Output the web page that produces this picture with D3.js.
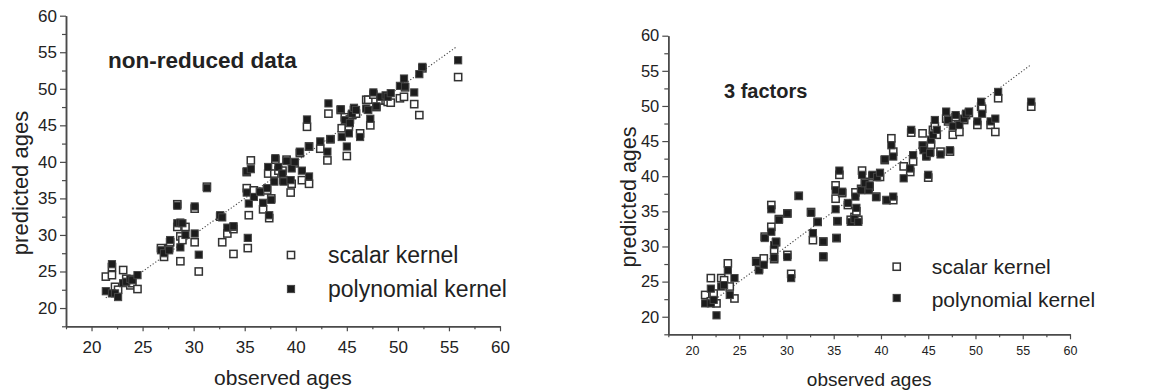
<!DOCTYPE html>
<html>
<head>
<meta charset="utf-8">
<script src="https://cdn.jsdelivr.net/npm/d3@7"></script>
<style>
  body { margin: 0; background: #fff; }
  svg { display: block; font-family: "Liberation Sans", Arial, Helvetica, sans-serif; }
</style>
</head>
<body>
<svg id="chart" width="1164" height="392"></svg>
<script>
// observed ages (shared by both panels)
const observed = [
  21.4, 22.0, 22.0, 22.3, 22.6, 23.1, 23.4, 23.8, 24.0, 24.5,
  26.8, 27.1, 27.6, 27.7, 28.4, 28.4, 28.7, 28.7, 28.9, 29.2,
  30.1, 30.1, 30.5, 31.3, 32.6, 32.8, 33.3, 33.9, 33.9,
  35.2, 35.2, 35.3, 35.4, 35.6, 35.9, 36.5, 36.8, 37.2, 37.4,
  37.3, 37.6, 37.9, 38.0, 38.3, 38.7, 38.8, 39.1, 39.5, 39.6,
  39.9, 40.4, 40.6, 41.1, 41.3, 41.3, 42.4, 43.1, 43.2, 43.4,
  44.4, 44.5, 44.8, 45.0, 45.2, 45.3, 45.5, 45.7, 45.9, 46.3,
  46.9, 47.1, 47.3, 47.6, 47.9, 48.3, 48.8, 49.0, 49.3,
  50.2, 50.6, 50.7, 51.6, 52.1, 52.4, 55.9
];

// non-reduced data
const scalarFull = [
  24.3, 25.6, 24.5, 22.9, 22.5, 25.2, 24.0, 23.1, 23.4, 22.6,
  28.2, 27.0, 28.2, 29.0, 34.2, 31.1, 26.4, 29.8, 29.3, 31.1,
  33.6, 29.0, 25.0, 36.6, 32.5, 29.0, 30.2, 27.4, 30.8,
  38.6, 36.4, 28.2, 32.7, 40.2, 36.1, 35.9, 33.5, 36.1, 32.3,
  38.4, 35.0, 38.4, 40.3, 38.8, 38.8, 37.5, 40.3, 35.8, 37.0,
  39.8, 41.2, 37.5, 44.8, 42.1, 37.0, 41.8, 40.2, 46.6, 43.1,
  47.1, 44.6, 46.1, 40.8, 44.8, 45.8, 46.4, 47.1, 46.6, 43.9,
  48.5, 48.5, 45.0, 49.2, 47.5, 48.4, 48.4, 48.2, 48.1,
  48.7, 48.9, 50.2, 47.9, 46.4, 52.8, 51.6
];
const polyFull = [
  22.3, 26.0, 22.0, 22.0, 21.5, 23.4, 23.6, 24.0, 23.8, 24.5,
  27.9, 27.5, 27.9, 29.3, 34.0, 31.6, 28.3, 31.7, 31.6, 30.0,
  33.9, 30.2, 27.3, 36.4, 32.7, 32.4, 31.0, 31.1, 31.2,
  38.7, 35.8, 29.6, 34.3, 39.0, 35.2, 35.9, 34.4, 36.4, 32.7,
  39.3, 34.8, 37.3, 40.5, 39.3, 38.4, 37.3, 40.1, 37.5, 39.1,
  40.0, 41.4, 38.8, 45.8, 42.1, 38.0, 42.8, 41.4, 48.0, 43.1,
  47.2, 43.4, 45.7, 42.1, 43.9, 45.3, 46.6, 47.4, 47.1, 43.4,
  47.3, 47.1, 45.9, 49.5, 47.6, 48.9, 49.1, 48.9, 49.4,
  50.4, 51.4, 50.3, 49.5, 52.0, 53.0, 53.9
];

// 3 factors
const scalar3 = [
  23.1, 25.5, 22.2, 23.3, 21.9, 25.5, 25.2, 27.6, 24.3, 22.6,
  27.9, 26.8, 28.3, 31.4, 35.9, 32.8, 28.2, 29.5, 30.6, 33.9,
  34.7, 28.8, 26.1, 37.2, 34.9, 30.9, 33.5, 30.7, 28.5,
  38.7, 36.8, 31.2, 33.6, 40.2, 37.6, 35.9, 33.8, 34.2, 35.0,
  37.7, 33.8, 38.2, 40.8, 39.2, 38.2, 38.5, 40.0, 37.1, 39.9,
  39.9, 42.3, 36.6, 45.4, 43.5, 36.6, 41.4, 40.6, 46.2, 42.1,
  46.1, 44.2, 42.9, 39.8, 43.5, 44.5, 46.6, 47.1, 45.9, 43.5,
  48.2, 47.8, 43.5, 45.9, 48.4, 46.3, 48.0, 48.7, 49.0,
  47.3, 49.9, 49.6, 47.3, 46.3, 51.1, 49.9
];
const poly3 = [
  21.9, 24.0, 21.9, 22.4, 20.2, 24.3, 24.5, 26.6, 23.1, 25.5,
  27.8, 26.6, 27.4, 31.2, 35.3, 32.1, 28.4, 30.2, 30.7, 33.8,
  34.7, 28.5, 25.5, 37.2, 34.8, 31.9, 33.5, 30.7, 28.6,
  38.0, 35.3, 31.2, 33.6, 40.8, 37.8, 36.2, 33.5, 33.9, 35.5,
  37.1, 33.5, 38.0, 40.2, 39.0, 38.0, 38.7, 40.2, 37.0, 39.9,
  40.5, 42.4, 36.6, 44.4, 42.8, 37.1, 39.7, 41.1, 46.6, 43.0,
  44.4, 43.7, 42.8, 40.2, 43.3, 45.2, 45.9, 48.0, 46.6, 43.1,
  49.2, 48.0, 43.7, 47.1, 48.7, 47.3, 48.2, 48.9, 49.2,
  47.8, 50.6, 48.9, 47.8, 48.2, 52.0, 50.6
];

const majorTicks = [20, 25, 30, 35, 40, 45, 50, 55, 60];
const minorTicks = [17.5, 22.5, 27.5, 32.5, 37.5, 42.5, 47.5, 52.5, 57.5];
const legendLabels = ['scalar kernel', 'polynomial kernel'];
const refLine = [21.4, 55.8];

const svg = d3.select('#chart');
const axisColor = '#4a4a4a';
const textColor = '#222';

function drawPanel(cfg) {
  const x = d3.scaleLinear().domain([17.5, 60]).range([cfg.x0, cfg.x1]);
  const y = d3.scaleLinear().domain([17.5, 60]).range([cfg.y0, cfg.y1]);
  const g = svg.append('g');

  // dotted y = x reference
  g.append('line')
    .attr('x1', x(refLine[0])).attr('y1', y(refLine[0]))
    .attr('x2', x(refLine[1])).attr('y2', y(refLine[1]))
    .attr('stroke', '#444').attr('stroke-width', 1.1)
    .attr('stroke-dasharray', '1.2,2');

  // axes
  const xMajor = d3.axisBottom(x).tickValues(majorTicks).tickSize(5).tickSizeOuter(0).tickPadding(cfg.xTickPad);
  const xMinor = d3.axisBottom(x).tickValues(minorTicks).tickSize(3).tickSizeOuter(0).tickFormat('');
  const yMajor = d3.axisLeft(y).tickValues(majorTicks).tickSize(6).tickSizeOuter(0).tickPadding(3);
  const yMinor = d3.axisLeft(y).tickValues(minorTicks).tickSize(4).tickSizeOuter(0).tickFormat('');

  const gx = g.append('g').attr('transform', `translate(0,${cfg.y0})`);
  gx.append('g').call(xMinor);
  gx.append('g').call(xMajor).selectAll('text')
    .attr('font-size', cfg.xTickFont).attr('fill', textColor)
    .attr('font-family', 'Liberation Sans, Arial, sans-serif');

  const gy = g.append('g').attr('transform', `translate(${cfg.x0},0)`);
  gy.append('g').call(yMinor);
  gy.append('g').call(yMajor).selectAll('text')
    .attr('font-size', cfg.yTickFont).attr('fill', textColor)
    .attr('font-family', 'Liberation Sans, Arial, sans-serif');

  g.selectAll('.domain').attr('stroke', axisColor).attr('stroke-width', 1.5);
  g.selectAll('.tick line').attr('stroke', axisColor).attr('stroke-width', 1.2);

  // markers: open squares first, filled drawn over them
  const s = 7.2;
  g.append('g').selectAll('rect')
    .data(observed.map((o, i) => [o, cfg.scalar[i]]))
    .join('rect')
    .attr('x', d => x(d[0]) - s / 2).attr('y', d => y(d[1]) - s / 2)
    .attr('width', s).attr('height', s)
    .attr('fill', '#fff').attr('stroke', '#333').attr('stroke-width', 1.5);

  g.append('g').selectAll('rect')
    .data(observed.map((o, i) => [o, cfg.poly[i]]))
    .join('rect')
    .attr('x', d => x(d[0]) - s / 2).attr('y', d => y(d[1]) - s / 2)
    .attr('width', s).attr('height', s)
    .attr('fill', '#1c1c1c').attr('stroke', '#444').attr('stroke-width', 1);

  // titles
  g.append('text')
    .attr('x', (cfg.x0 + cfg.x1) / 2).attr('y', cfg.xTitleY)
    .attr('text-anchor', 'middle').attr('font-size', cfg.xTitleFont).attr('fill', textColor)
    .text('observed ages');
  g.append('text')
    .attr('transform', `translate(${cfg.yTitleX},${cfg.yTitleCy}) rotate(-90)`)
    .attr('text-anchor', 'middle').attr('font-size', cfg.yTitleFont).attr('fill', textColor)
    .text('predicted ages');
  g.append('text')
    .attr('x', cfg.labelX).attr('y', cfg.labelY)
    .attr('font-size', cfg.labelFont).attr('font-weight', 'bold').attr('fill', textColor)
    .text(cfg.label);

  // legend
  legendLabels.forEach((t, i) => {
    const my = cfg.legY[i];
    g.append('rect')
      .attr('x', cfg.legX - s / 2).attr('y', my - s / 2).attr('width', s).attr('height', s)
      .attr('fill', i === 0 ? '#fff' : '#1c1c1c')
      .attr('stroke', i === 0 ? '#333' : '#444')
      .attr('stroke-width', i === 0 ? 1.5 : 1);
    g.append('text')
      .attr('x', cfg.legTextX).attr('y', cfg.legTextY[i])
      .attr('font-size', cfg.legFont).attr('fill', textColor)
      .text(t);
  });
}

drawPanel({
  x0: 66, x1: 500, y0: 326.3, y1: 15.7,
  scalar: scalarFull, poly: polyFull,
  xTickFont: 17, yTickFont: 17, xTickPad: 10,
  xTitleY: 385, xTitleFont: 21,
  yTitleX: 28, yTitleCy: 183, yTitleFont: 22,
  label: 'non-reduced data', labelX: 108, labelY: 68, labelFont: 22.5,
  legX: 291, legY: [255, 289], legTextX: 328, legTextY: [263, 297], legFont: 23
});

drawPanel({
  x0: 668.3, x1: 1070, y0: 334.3, y1: 35.7,
  scalar: scalar3, poly: poly3,
  xTickFont: 12.5, yTickFont: 16.5, xTickPad: 7,
  xTitleY: 386, xTitleFont: 19,
  yTitleX: 636, yTitleCy: 197, yTitleFont: 21.5,
  label: '3 factors', labelX: 724, labelY: 98, labelFont: 20,
  legX: 896.7, legY: [266.7, 298], legTextX: 931.7, legTextY: [274, 307], legFont: 21
});
</script>
</body>
</html>
